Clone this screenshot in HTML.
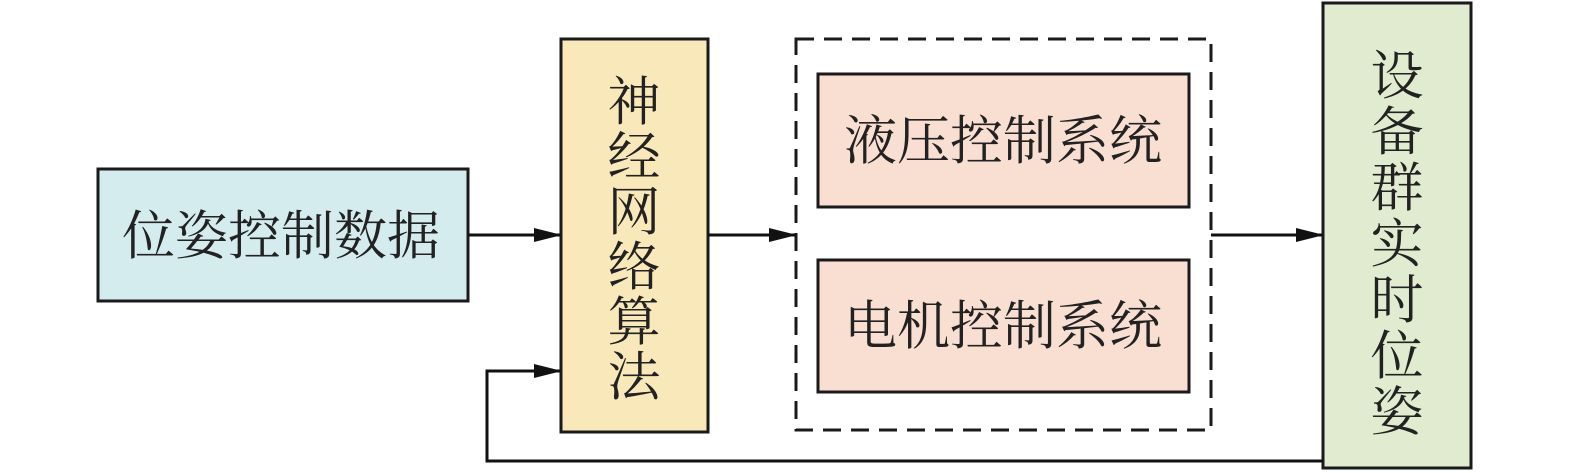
<!DOCTYPE html>
<html><head><meta charset="utf-8"><style>
body{margin:0;background:#fff}
</style></head><body>
<svg width="1575" height="473" viewBox="0 0 1575 473" xmlns="http://www.w3.org/2000/svg" style="display:block">
<defs><marker id="a" markerWidth="28" markerHeight="14" refX="26" refY="7" orient="auto" markerUnits="userSpaceOnUse"><path d="M0,0 L28,7 L0,14 Z" fill="#111"/></marker></defs>
<g font-family="Noto Serif CJK SC, serif" font-size="53" fill="#222" stroke="none">
<rect x="98" y="169" width="370" height="132" fill="#d4ecee" stroke="#1a1a1a" stroke-width="3"/>
<text x="281" y="254" text-anchor="middle">位姿控制数据</text>
<rect x="561" y="39" width="147" height="393" fill="#f9e8b9" stroke="#1a1a1a" stroke-width="3"/>
<g text-anchor="middle">
<text x="634" y="120">神</text><text x="634" y="175">经</text><text x="634" y="230">网</text><text x="634" y="285">络</text><text x="634" y="340">算</text><text x="634" y="395">法</text>
</g>
<rect x="796" y="39" width="415" height="391" fill="none" stroke="#1a1a1a" stroke-width="3" stroke-dasharray="18,10"/>
<rect x="818" y="74" width="371" height="133" fill="#f9dfd1" stroke="#1a1a1a" stroke-width="3"/>
<text x="1003" y="159" text-anchor="middle">液压控制系统</text>
<rect x="818" y="260" width="371" height="132" fill="#f9dfd1" stroke="#1a1a1a" stroke-width="3"/>
<text x="1003" y="344" text-anchor="middle">电机控制系统</text>
<rect x="1323" y="3" width="148" height="465" fill="#e1ebcf" stroke="#1a1a1a" stroke-width="3"/>
<g text-anchor="middle">
<text x="1397" y="94">设</text><text x="1397" y="150">备</text><text x="1397" y="206">群</text><text x="1397" y="262">实</text><text x="1397" y="318">时</text><text x="1397" y="374">位</text><text x="1397" y="430">姿</text>
</g>
</g>
<g stroke="#111" stroke-width="3" fill="none">
<line x1="468" y1="235" x2="560" y2="235" marker-end="url(#a)"/>
<line x1="708" y1="235" x2="795" y2="235" marker-end="url(#a)"/>
<line x1="1211" y1="235" x2="1322" y2="235" marker-end="url(#a)"/>
<polyline points="1323,461 487,461 487,371 560,371" marker-end="url(#a)"/>
</g>
</svg>
</body></html>
